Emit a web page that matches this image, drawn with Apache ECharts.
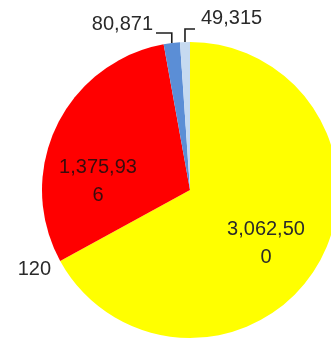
<!DOCTYPE html>
<html>
<head>
<meta charset="utf-8">
<script src="https://cdn.jsdelivr.net/npm/echarts@6/dist/echarts.min.js"></script>
<style>
  html, body { margin: 0; padding: 0; background: #ffffff; }
  #chart { width: 331px; height: 342px; }
</style>
</head>
<body>
<div id="chart"></div>
<script>
// Slice values, clockwise from 12 o'clock
const sliceValues = [3062500, 120, 1375936, 80871, 49315];
const sliceColors = ['#ffff00', '#9a9a9a', '#ff0000', '#5b8ed6', '#c6daf0'];

// Where each value label sits (label anchor point, alignment, leader line height)
const labelSpots = [
  { x: 266, y: 243, align: 'center' },
  { x: 51, y: 269, align: 'right' },
  { x: 98, y: 181, align: 'center' },
  { x: 153, y: 24, align: 'right', lineY: 33, lineEnd: 156 },
  { x: 201, y: 18, align: 'left', lineY: 29, lineEnd: 195 }
];

const fmt = v => v.toLocaleString('en-US');

const chart = echarts.init(document.getElementById('chart'), null, { renderer: 'canvas' });

const data = sliceValues.map((v, i) => {
  const inside = (i === 0 || i === 2);
  const hasLine = (i === 3 || i === 4);
  return {
    value: v,
    itemStyle: { color: sliceColors[i] },
    label: inside
      ? { position: 'inside', width: 80, overflow: 'breakAll', lineHeight: 28,
          color: i === 2 ? '#3a0c0c' : '#2a2a2a' }
      : { position: 'outside' },
    labelLine: { show: hasLine }
  };
});

chart.setOption({
  animation: false,
  backgroundColor: '#ffffff',
  series: [{
    type: 'pie',
    center: [190, 190],
    radius: 148,
    startAngle: 90,
    clockwise: true,
    avoidLabelOverlap: false,
    itemStyle: { borderWidth: 0 },
    emphasis: { disabled: true },
    label: {
      show: true,
      formatter: p => fmt(p.value),
      fontFamily: 'Liberation Sans',
      fontSize: 20,
      color: '#2a2a2a'
    },
    labelLine: {
      show: true,
      lineStyle: { color: '#1e1e1e', width: 1.6 }
    },
    labelLayout: function (params) {
      const spot = labelSpots[params.dataIndex];
      const out = { x: spot.x, y: spot.y, align: spot.align, verticalAlign: 'middle' };
      if (spot.lineY != null && params.labelLinePoints) {
        const anchor = params.labelLinePoints[0];
        out.labelLinePoints = [
          [anchor[0], anchor[1]],
          [anchor[0], spot.lineY],
          [spot.lineEnd, spot.lineY]
        ];
      }
      return out;
    },
    data: data
  }]
});
</script>
</body>
</html>
